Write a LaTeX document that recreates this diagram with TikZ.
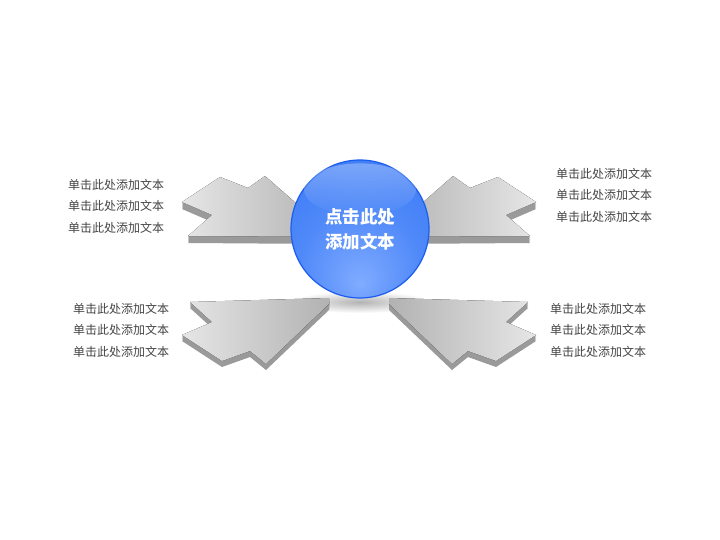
\documentclass[tikz,border=0pt]{standalone}
\usepackage{fontspec}
\setmainfont{Noto Sans CJK SC}
\usepackage{tikz}
\usetikzlibrary{fadings}
\definecolor{balledge}{HTML}{1C5CEE}
\definecolor{ballmid}{HTML}{3A7AF6}
\definecolor{ballhi}{HTML}{80ABFF}
\definecolor{facedark}{HTML}{B2B2B2}
\definecolor{facelight}{HTML}{E6E6E6}
\definecolor{sidegray}{HTML}{9A9A9A}
\definecolor{txtgray}{HTML}{454545}
\pgfdeclareradialshading{glassball}{\pgfpoint{0bp}{-20bp}}{color(0bp)=(ballhi); color(22bp)=(ballmid!70!ballhi); color(42bp)=(ballmid); color(60bp)=(balledge); color(72bp)=(balledge)}
\tikzfading[name=glossfade, top color=transparent!70, bottom color=transparent!100]
\tikzfading[name=shadowfade, inner color=transparent!70, outer color=transparent!100]
\tikzstyle{side}=[fill=sidegray]
\tikzstyle{facel}=[left color=facelight, right color=facedark]% light tail, dark head
\tikzstyle{facer}=[left color=facedark, right color=facelight]
\tikzstyle{ball}=[circle, minimum size=138pt, inner sep=0pt, shading=glassball, draw=balledge, line width=1.2pt]
\tikzstyle{balltext}=[text=white, align=center, font=\fontsize{17.5}{25}\selectfont\bfseries]
\tikzstyle{sidetext}=[text=txtgray, align=left, inner sep=0pt, anchor=west, font=\fontsize{12}{21.5}\selectfont]
% #1 face style, #2 depth, #3 outline of the top face
\newcommand{\flatarrow}[3]{%
  \foreach \d in {1,...,#2} {\fill[side, yshift=-\d pt] #3 -- cycle;}
  \fill[#1] #3 -- cycle;}

\begin{document}
\begin{tikzpicture}[x=1pt, y=-1pt]
\fill[white] (0,0) rectangle (720,540);
\useasboundingbox (0,0) rectangle (720,540);

% shadow under the ball
\fill[black, path fading=shadowfade] (360,302) ellipse (70 and 11);

% the four flat arrows
\flatarrow{facel}{7}{(182,202) -- (220,177) -- (248,188) -- (265,176) -- (329,232) -- (329,237) -- (188,236) -- (212,215)}
\flatarrow{facer}{7}{(536,202) -- (498,177) -- (470,188) -- (453,176) -- (389,232) -- (389,237) -- (530,236) -- (506,215)}
\flatarrow{facel}{6}{(190,302) -- (329,298) -- (329,304) -- (266,364) -- (250,351) -- (222,361) -- (182,335) -- (212,322)}
\flatarrow{facer}{6}{(528,302) -- (389,298) -- (389,304) -- (452,364) -- (468,351) -- (496,361) -- (536,335) -- (506,322)}

% the ball
\node[ball] (ball) at (360,229) {};
\fill[white, path fading=glossfade] ([yshift=-30pt]ball.north) ellipse (56 and 26);
\node[balltext] (title) at (ball.center) {点击此处\\添加文本};

% texts
\node[sidetext] (lt) at (68,206) {单击此处添加文本\\单击此处添加文本\\单击此处添加文本};
\node[sidetext] (rt) at (556,195) {单击此处添加文本\\单击此处添加文本\\单击此处添加文本};
\node[sidetext] (lb) at (73,330) {单击此处添加文本\\单击此处添加文本\\单击此处添加文本};
\node[sidetext] (rb) at (550,330) {单击此处添加文本\\单击此处添加文本\\单击此处添加文本};
\end{tikzpicture}
\end{document}
